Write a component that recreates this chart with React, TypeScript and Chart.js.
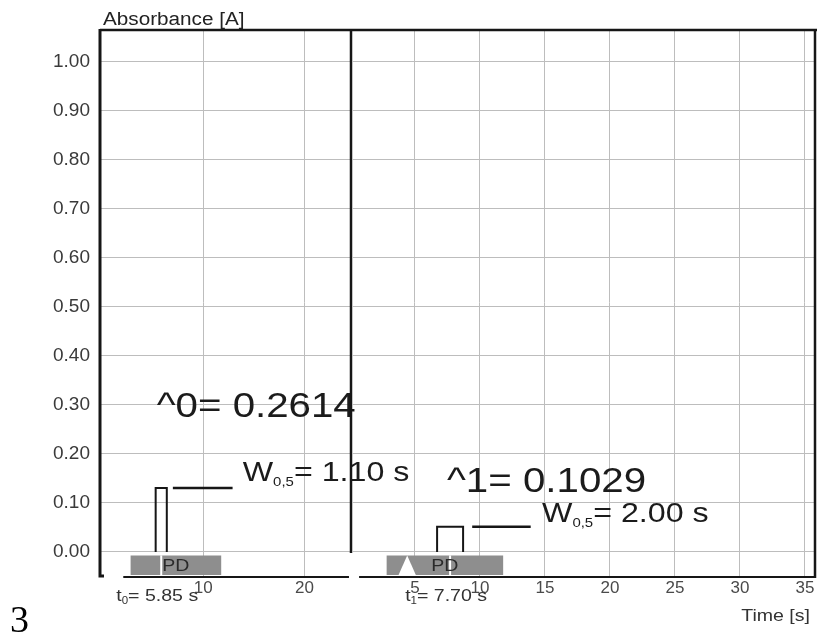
import React, { useEffect, useRef } from "react";
import { Chart, registerables } from "chart.js";

Chart.register(...registerables);

// ---- values -------------------------------------------------------------
const yTickValues = [0, 0.1, 0.2, 0.3, 0.4, 0.5, 0.6, 0.7, 0.8, 0.9, 1.0];
const leftTimeTicks = [10, 20];
const rightTimeTicks = [5, 10, 15, 20, 25, 30, 35];

// peak amplitude (A), width at half height (W0.5) and retention time (t) per run
const peakAmplitude = [0.2614, 0.1029];
const peakWidth = [1.1, 2.0];
const peakTime = [5.85, 7.7];

// leader line from each peak to its width label (seconds)
const leaderStart = [7.0, 9.4];
const leaderEnd = [12.9, 13.9];

// "PD" band along the time axis (seconds)
const pdStart = [2.8, 2.8];
const pdEnd = [11.8, 11.8];

// injection notch (right run only) and drawn extent of the time axis
const notchTime: (number | null)[] = [null, 4.4];
const axisStart = [2.1, 0.7];
const axisEnd = [24.4, 35.8];

// ---- layout / style -----------------------------------------------------
const Y_MIN = -0.049;
const Y_MAX = 1.067;
const PD_TOP = -0.007;
const PD_BOTTOM = -0.047;
const W_PAGE = 817;
const H = 639;
const PLOT_TOP = 29;
const PLOT_BOTTOM = 576;
const FONT = '"Liberation Sans", Arial, Helvetica, sans-serif';
const STRETCH = 1.15;
const INK = "#161616";
const GRID = "#bdbdbd";

type Run = { text: string; size: number; dy?: number };

function drawRuns(
  ctx: CanvasRenderingContext2D,
  runs: Run[],
  x: number,
  y: number,
  align: "left" | "center" | "right",
  color: string
) {
  ctx.save();
  ctx.fillStyle = color;
  ctx.textBaseline = "alphabetic";
  ctx.textAlign = "left";
  let total = 0;
  const widths = runs.map((r) => {
    ctx.font = `${r.size}px ${FONT}`;
    const w = ctx.measureText(r.text).width;
    total += w;
    return w;
  });
  const start =
    align === "left" ? x : align === "center" ? x - (total * STRETCH) / 2 : x - total * STRETCH;
  ctx.translate(start, y);
  ctx.scale(STRETCH, 1);
  let cx = 0;
  runs.forEach((r, i) => {
    ctx.font = `${r.size}px ${FONT}`;
    ctx.fillText(r.text, cx, r.dy || 0);
    cx += widths[i];
  });
  ctx.restore();
}

type Panel = {
  left: number;
  width: number;
  padRight: number;
  yAxisWidth: number;
  xMin: number;
  xMax: number;
  ticks: number[];
  ampAt: [number, number];
  widthAt: [number, number];
};

const panels: Panel[] = [
  {
    left: 0,
    width: W_PAGE,
    padRight: W_PAGE - 351,
    yAxisWidth: 100,
    xMin: -0.2,
    xMax: 24.6,
    ticks: leftTimeTicks,
    ampAt: [5.4, 0.276],
    widthAt: [13.9, 0.145],
  },
  {
    left: 352,
    width: W_PAGE - 352,
    padRight: 2,
    yAxisWidth: 0,
    xMin: 0.154,
    xMax: 35.77,
    ticks: rightTimeTicks,
    ampAt: [7.46, 0.122],
    widthAt: [14.77, 0.061],
  },
];

function buildChart(canvas: HTMLCanvasElement, i: number) {
  const p = panels[i];
  const A = peakAmplitude[i];
  const W = peakWidth[i];
  const t = peakTime[i];
  const half = A / 2;

  const datasets: any[] = [
    {
      // peak drawn at half height, W0.5 wide
      data: [
        { x: t - W / 2, y: 0 },
        { x: t - W / 2, y: half },
        { x: t + W / 2, y: half },
        { x: t + W / 2, y: 0 },
      ],
      borderColor: INK,
      borderWidth: 2,
      order: 1,
    },
    {
      data: [
        { x: leaderStart[i], y: half },
        { x: leaderEnd[i], y: half },
      ],
      borderColor: INK,
      borderWidth: 2.5,
      order: 1,
    },
    {
      // retention time cut through the PD band
      data: [
        { x: t, y: Y_MIN },
        { x: t, y: PD_TOP },
      ],
      borderColor: "#ffffff",
      borderWidth: 2,
      order: 2,
    },
    {
      data: [
        { x: pdStart[i], y: PD_TOP },
        { x: pdEnd[i], y: PD_TOP },
      ],
      borderWidth: 0,
      borderColor: "rgba(0,0,0,0)",
      backgroundColor: "#8e8e8e",
      fill: { value: PD_BOTTOM },
      order: 4,
    },
  ];
  const n = notchTime[i];
  if (n !== null) {
    datasets.push({
      data: [
        { x: n - 0.7, y: Y_MIN },
        { x: n, y: PD_TOP },
        { x: n + 0.7, y: Y_MIN },
      ],
      borderWidth: 0,
      borderColor: "rgba(0,0,0,0)",
      backgroundColor: "#ffffff",
      fill: { value: Y_MIN },
      order: 3,
    });
  }

  const framePlugin = {
    id: "frame" + i,
    beforeDatasetsDraw(chart: any) {
      const { ctx, chartArea, scales } = chart;
      ctx.save();
      ctx.strokeStyle = INK;
      ctx.lineWidth = 2;
      ctx.beginPath();
      ctx.moveTo(scales.x.getPixelForValue(axisStart[i]), chartArea.bottom + 1);
      ctx.lineTo(scales.x.getPixelForValue(axisEnd[i]), chartArea.bottom + 1);
      ctx.stroke();
      ctx.restore();
    },
    afterDraw(chart: any) {
      const { ctx, chartArea, scales } = chart;
      const xs = scales.x;
      const ys = scales.y;
      const { left, right, top, bottom } = chartArea;

      // PD label in the band
      drawRuns(
        ctx,
        [{ text: "PD", size: 17 }],
        xs.getPixelForValue((pdStart[i] + pdEnd[i]) / 2),
        ys.getPixelForValue(PD_BOTTOM) - 4,
        "center",
        "#2a2a2a"
      );
      // amplitude
      drawRuns(
        ctx,
        [{ text: `^${i}= ${A.toFixed(4)}`, size: 35 }],
        xs.getPixelForValue(p.ampAt[0]),
        ys.getPixelForValue(p.ampAt[1]),
        "left",
        "#1b1b1b"
      );
      // width at half height
      drawRuns(
        ctx,
        [
          { text: "W", size: 28 },
          { text: "0,5", size: 13, dy: 5 },
          { text: `= ${W.toFixed(2)} s`, size: 28 },
        ],
        xs.getPixelForValue(p.widthAt[0]),
        ys.getPixelForValue(p.widthAt[1]),
        "left",
        "#1b1b1b"
      );
      // retention time
      drawRuns(
        ctx,
        [
          { text: "t", size: 17 },
          { text: String(i), size: 10, dy: 3 },
          { text: `= ${t.toFixed(2)} s`, size: 17 },
        ],
        xs.getPixelForValue(t) - 4,
        601,
        "center",
        "#333"
      );

      ctx.save();
      ctx.strokeStyle = INK;
      ctx.lineCap = "butt";
      // top border
      ctx.lineWidth = 2.5;
      ctx.beginPath();
      ctx.moveTo(left, top + 1);
      ctx.lineTo(i === 0 ? right + 1 : right + p.padRight, top + 1);
      ctx.stroke();
      if (i === 0) {
        // absorbance axis with a small foot
        ctx.lineWidth = 3;
        ctx.beginPath();
        ctx.moveTo(left, top);
        ctx.lineTo(left, bottom);
        ctx.lineTo(left + 4, bottom);
        ctx.stroke();
        // divider between the two runs
        ctx.lineWidth = 2.5;
        ctx.beginPath();
        ctx.moveTo(right, top);
        ctx.lineTo(right, ys.getPixelForValue(0) + 1);
        ctx.stroke();
        drawRuns(ctx, [{ text: "Absorbance [A]", size: 18 }], left + 3, top - 4, "left", "#222");
        ctx.font = `38px "Liberation Serif", "Times New Roman", serif`;
        ctx.fillStyle = "#000";
        ctx.textAlign = "left";
        ctx.textBaseline = "alphabetic";
        ctx.fillText("3", 10, 632);
      } else {
        ctx.lineWidth = 2.5;
        ctx.beginPath();
        ctx.moveTo(right, top);
        ctx.lineTo(right, bottom + 2);
        ctx.stroke();
        drawRuns(ctx, [{ text: "Time [s]", size: 17 }], right - 5, 621, "right", "#333");
      }
      ctx.restore();
    },
  };

  return new Chart(canvas, {
    type: "line",
    data: { datasets },
    options: {
      animation: false,
      responsive: false,
      events: [],
      layout: { padding: { top: PLOT_TOP, left: 0, right: p.padRight, bottom: 0 } },
      elements: { point: { radius: 0 }, line: { tension: 0 } },
      plugins: { legend: { display: false }, tooltip: { enabled: false } },
      scales: {
        x: {
          type: "linear",
          min: p.xMin,
          max: p.xMax,
          afterBuildTicks: (s: any) => {
            s.ticks = p.ticks.map((v) => ({ value: v }));
          },
          afterFit: (s: any) => {
            s.height = H - PLOT_BOTTOM;
          },
          border: { display: false },
          grid: { color: GRID, lineWidth: 1, drawTicks: false },
          ticks: {
            padding: 2,
            maxRotation: 0,
            autoSkip: false,
            color: "#4a4a4a",
            font: { family: FONT, size: 17 },
            callback: (v: any) => String(v),
          },
        },
        y: {
          type: "linear",
          min: Y_MIN,
          max: Y_MAX,
          afterBuildTicks: (s: any) => {
            s.ticks = yTickValues.map((v) => ({ value: v }));
          },
          afterFit: (s: any) => {
            s.width = p.yAxisWidth;
          },
          border: { display: false },
          grid: { color: GRID, lineWidth: 1, drawTicks: false },
          ticks: {
            display: i === 0,
            padding: 10,
            color: "#3a3a3a",
            font: { family: FONT, size: 19 },
            callback: (v: any) => Number(v).toFixed(2),
          },
        },
      },
    },
    plugins: [framePlugin],
  });
}

export default function App() {
  const leftRef = useRef<HTMLCanvasElement>(null);
  const rightRef = useRef<HTMLCanvasElement>(null);

  useEffect(() => {
    const charts: Chart[] = [];
    if (leftRef.current) charts.push(buildChart(leftRef.current, 0));
    if (rightRef.current) charts.push(buildChart(rightRef.current, 1));
    return () => charts.forEach((c) => c.destroy());
  }, []);

  return (
    <div
      style={{
        position: "fixed",
        left: 0,
        top: 0,
        width: W_PAGE,
        height: H,
        background: "#ffffff",
        overflow: "hidden",
      }}
    >
      <canvas
        ref={leftRef}
        width={panels[0].width}
        height={H}
        style={{ position: "absolute", left: panels[0].left, top: 0 }}
      />
      <canvas
        ref={rightRef}
        width={panels[1].width}
        height={H}
        style={{ position: "absolute", left: panels[1].left, top: 0 }}
      />
    </div>
  );
}
